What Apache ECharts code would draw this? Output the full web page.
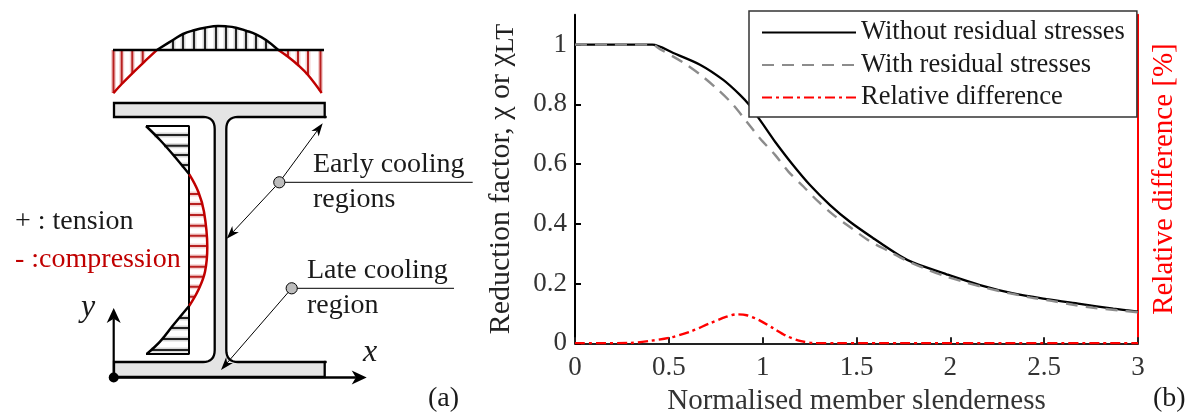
<!DOCTYPE html>
<html><head><meta charset="utf-8">
<style>html,body{margin:0;padding:0;background:#fff}#c{width:1189px;height:412px}</style>
<script src="https://cdn.jsdelivr.net/npm/echarts@6/dist/echarts.min.js"></script>
</head><body><div id="c"></div>
<script>
// ---- panel (b) data ----
const xTicks = [0, 0.5, 1, 1.5, 2, 2.5, 3];
const yTicks = [0, 0.2, 0.4, 0.6, 0.8, 1];
const withoutRS = [[0,1],[0.2,1],[0.412,1],[0.524,0.972],[0.666,0.933],[0.79,0.882],[0.879,0.832],[0.929,0.798],[0.971,0.761],[1.035,0.703],[1.066,0.675],[1.154,0.603],[1.252,0.53],[1.359,0.463],[1.465,0.407],[1.589,0.352],[1.731,0.293],[1.803,0.27],[1.98,0.231],[2.158,0.195],[2.335,0.167],[2.512,0.148],[2.69,0.132],[2.868,0.116],[3,0.106]];
const withRS = [[0,1],[0.2,1],[0.412,1],[0.453,0.985],[0.577,0.94],[0.675,0.896],[0.764,0.848],[0.844,0.798],[0.915,0.742],[0.986,0.686],[1.066,0.631],[1.137,0.575],[1.217,0.525],[1.297,0.474],[1.385,0.426],[1.474,0.385],[1.568,0.343],[1.67,0.309],[1.767,0.277],[1.874,0.248],[1.98,0.223],[2.087,0.203],[2.2,0.184],[2.318,0.167],[2.424,0.154],[2.54,0.142],[2.655,0.129],[2.762,0.119],[3,0.104]];
const relDiff = [[0,0],[0.293,0.001],[0.4,0.008],[0.506,0.019],[0.613,0.039],[0.719,0.067],[0.808,0.089],[0.861,0.097],[0.915,0.094],[0.986,0.076],[1.057,0.05],[1.126,0.025],[1.199,0.008],[1.27,0.001],[1.4,0],[3,0]];
const seriesNames = ['Without residual stresses', 'With residual stresses', 'Relative difference'];

// ---- panel (a) stress profiles, in the schematic's own units ----
const flangeRedLeft = [[113.3,93.3],[121.7,84],[132.3,73.3],[142.7,63.3],[157.3,49.7]];
const flangeBlack = [[157.3,49.7],[173,40],[183,34],[194,30.3],[205,27.7],[218,26],[226,26.3],[236,27.7],[246,30.7],[256,34.3],[266,40],[278,49.7]];
const flangeRedRight = [[278,49.7],[288,56.7],[298,65],[308,75],[321.7,93]];
const webBlackTop = [[146,126],[160,140],[173.3,155],[189.3,174.3]];
const webRed = [[189.3,174.3],[198.3,191.7],[204,211.7],[207.3,246.7],[205,271.7],[198.3,290],[189.3,305.7]];
const webBlackBottom = [[189.3,305.7],[173.3,325],[160,341.7],[146.7,354]];
const flangeBase = [[113,50],[324,50]];
const webBase = [[146,126],[189,126],[189,354],[146,354]];
const hatchFlangeBlack = [[173,40],[183,34],[194,30.3],[205,27.7],[216,26],[226,26.3],[236,27.7],[246,30.7],[256,34.3],[266,40]];
const hatchFlangeRed = [[113.5,93],[121.7,84],[132.3,73.3],[142.7,63.3],[288,56.7],[298,65],[308,75],[320.5,91]];
const hatchWebBlack = [[154,135],[164,145.7],[173,155],[181,165],[179.5,318],[171,328],[162,339],[151,350]];
const hatchWebRed = [[199,194],[202.5,204],[204.7,215],[206,225.7],[207,235.7],[207.3,246],[207,256.7],[205.7,266.7],[203.5,276.7],[199.5,286.7],[194,296.7]];

const SERIF = '"Liberation Serif","Times New Roman",serif';
const vHatch = a => a.flatMap(p => [[p[0],50],[p[0],p[1]],['-','-']]);
const hHatch = a => a.flatMap(p => [[189,p[1]],[p[0],p[1]],['-','-']]);

function schematicLine(data, color, width, z, smooth) {
  return {type:'line', xAxisIndex:1, yAxisIndex:2, data, symbol:'none', silent:true, connectNulls:false, z:z||5,
    smooth:smooth?0.4:false, lineStyle:{color, width, cap:'butt'}};
}
function arrow(x0,y0,x1,y1,len,hw,lw) {
  const a = Math.atan2(y1-y0,x1-x0), c = Math.cos(a), s = Math.sin(a);
  const bx = x1-c*len, by = y1-s*len, nx = x1-c*len*0.72, ny = y1-s*len*0.72;
  return [
    {type:'line', z:20, shape:{x1:x0,y1:y0,x2:nx,y2:ny}, style:{stroke:'#000',lineWidth:lw}},
    {type:'polygon', z:20, shape:{points:[[x1,y1],[bx-s*hw,by+c*hw],[nx,ny],[bx+s*hw,by-c*hw]]}, style:{fill:'#000'}}
  ];
}
// y is the text's baseline; the graphic text is anchored at its top
function label(text,x,y,font,fill) {
  return {type:'text', z:30, x, y:y-21, style:{text, font, fill:fill||'#1a1a1a', textAlign:'left'}};
}
// quarter-round fillet from a to b, with the corner at c
function fillet(a,c,b) {
  const pts = [];
  for (let i=0;i<=8;i++){ const t=i/8, u=1-t; pts.push([u*u*a[0]+2*u*t*c[0]+t*t*b[0], u*u*a[1]+2*u*t*c[1]+t*t*b[1]]); }
  return pts;
}
const F = '28px ' + SERIF, FI = 'italic 32px ' + SERIF;
const sectionOutline = [
  [114,103],[324.7,103],[324.7,117],
  ...fillet([238,117],[226.3,117],[226.3,129]),
  ...fillet([226.3,350],[226.3,362],[238,362]),
  [324.7,362],[324.7,377],[114,377],[114,362],
  ...fillet([203,362],[214.7,362],[214.7,350]),
  ...fillet([214.7,129],[214.7,117],[203,117]),
  [114,117]
];

const graphics = [
  {type:'polygon', z:1, shape:{points:sectionOutline}, style:{fill:'#e4e4e4',stroke:'#000',lineWidth:2.3}},
  {type:'line', z:2, shape:{x1:324,y1:117,x2:326.7,y2:117}, style:{stroke:'#000',lineWidth:2.3}},
  {type:'line', z:2, shape:{x1:324,y1:362,x2:326.7,y2:362}, style:{stroke:'#000',lineWidth:2.3}},
  ...arrow(113.7,377,113.7,308,15,7,2.2),
  ...arrow(113.7,377.5,366.7,377.5,15,7,2.5),
  {type:'circle', z:21, shape:{cx:113.7,cy:377.5,r:5}, style:{fill:'#000'}},
  ...arrow(279.3,182.3,322.7,123.3,13,4.5,1),
  ...arrow(279.3,182.3,226.7,238.7,13,4.5,1),
  ...arrow(291.7,288.3,221,370,13,4.5,1),
  {type:'line', z:20, shape:{x1:285,y1:182.3,x2:472.7,y2:182.3}, style:{stroke:'#000',lineWidth:1}},
  {type:'line', z:20, shape:{x1:297,y1:288.3,x2:454,y2:288.3}, style:{stroke:'#000',lineWidth:1}},
  {type:'circle', z:22, shape:{cx:279.3,cy:182.3,r:5.6}, style:{fill:'#bdbdbd',stroke:'#000',lineWidth:1}},
  {type:'circle', z:22, shape:{cx:291.7,cy:288.3,r:5.6}, style:{fill:'#bdbdbd',stroke:'#000',lineWidth:1}},
  label('Early cooling',313,172,F),
  label('regions',313,207,F),
  label('Late cooling',307,278,F),
  label('region',307,313,F),
  label('+ : tension',15,229,F),
  label('- :compression',15,267,F,'#c00000'),
  label('y',81,313,FI),
  label('x',363,358,FI),
  label('(a)',428,406,F),
  label('(b)',1153,406,F)
];

const option = {
  animation:false,
  backgroundColor:'#fff',
  textStyle:{fontFamily:SERIF},
  grid:[
    {left:575, top:14.8, width:563, height:328.5, containLabel:false, outerBoundsMode:'none'},
    {left:0, top:0, width:1189, height:412, containLabel:false, outerBoundsMode:'none'}
  ],
  legend:{
    data:seriesNames, left:749, top:11, orient:'vertical', padding:[8,12,6,12],
    itemWidth:94, itemHeight:24, itemGap:5.5, selectedMode:false,
    backgroundColor:'#fff', borderColor:'#333', borderWidth:1.5, z:10,
    itemStyle:{color:'transparent', opacity:0, borderWidth:0},
    textStyle:{fontFamily:SERIF, fontSize:26.5, color:'#1a1a1a', padding:0}
  },
  xAxis:[
    {type:'value', gridIndex:0, min:0, max:3, interval:0.5,
     name:'Normalised member slenderness', nameLocation:'middle', nameGap:44,
     nameTextStyle:{fontFamily:SERIF,fontSize:29,color:'#333'},
     axisLine:{lineStyle:{color:'#222',width:2}},
     axisTick:{inside:true,length:6,lineStyle:{color:'#222',width:2}},
     axisLabel:{fontFamily:SERIF,fontSize:27,color:'#333',margin:11,customValues:xTicks,hideOverlap:false,
       formatter:v=>String(v)},
     splitLine:{show:false}},
    {type:'value', gridIndex:1, min:0, max:1189, show:false}
  ],
  yAxis:[
    {type:'value', gridIndex:0, min:0, max:1.1, position:'left',
     name:'{m|Reduction factor, χ or χ}{s|LT}', nameLocation:'middle', nameGap:56, nameRotate:90,
     nameTextStyle:{rich:{m:{fontFamily:SERIF,fontSize:30,color:'#222'},s:{fontFamily:SERIF,fontSize:26,color:'#222',padding:[10,0,0,0]}}},
     axisLine:{show:true,lineStyle:{color:'#000',width:2}},
     axisTick:{inside:true,length:6,customValues:yTicks,lineStyle:{color:'#000',width:2}},
     axisLabel:{fontFamily:SERIF,fontSize:27,color:'#333',margin:8,customValues:yTicks,formatter:v=>String(v)},
     splitLine:{show:false}},
    {type:'value', gridIndex:0, min:0, max:1.1, position:'right',
     name:'Relative difference [%]', nameLocation:'middle', nameGap:12, nameRotate:90,
     nameTextStyle:{fontFamily:SERIF,fontSize:29,color:'#f00'},
     axisLine:{show:true,lineStyle:{color:'#f00',width:2}},
     axisTick:{show:false}, axisLabel:{show:false}, splitLine:{show:false}},
    {type:'value', gridIndex:1, min:0, max:412, inverse:true, show:false}
  ],
  graphic:graphics,
  series:[
    {name:seriesNames[0], type:'line', xAxisIndex:0, yAxisIndex:0, data:withoutRS, symbol:'none', z:3,
     smooth:0.3, lineStyle:{color:'#000',width:2.3}},
    {name:seriesNames[1], type:'line', xAxisIndex:0, yAxisIndex:0, data:withRS, symbol:'none', z:3,
     smooth:0.3, lineStyle:{color:'#8c8c8c',width:2.4,type:[12,8]}},
    {name:seriesNames[2], type:'line', xAxisIndex:0, yAxisIndex:1, data:relDiff, symbol:'none', z:4,
     smooth:0.3, lineStyle:{color:'#f00',width:2.4,type:[10,4,3,4]}},
    schematicLine(vHatch(hatchFlangeBlack),'rgba(0,0,0,0.16)',5,2),
    schematicLine(vHatch(hatchFlangeBlack),'#222',2,3),
    schematicLine(vHatch(hatchFlangeRed),'rgba(192,0,0,0.18)',5,2),
    schematicLine(vHatch(hatchFlangeRed),'#b82020',2,3),
    schematicLine(hHatch(hatchWebBlack),'rgba(0,0,0,0.16)',5,2),
    schematicLine(hHatch(hatchWebBlack),'#222',2,3),
    schematicLine(hHatch(hatchWebRed),'rgba(192,0,0,0.18)',5,2),
    schematicLine(hHatch(hatchWebRed),'#b82020',2,3),
    schematicLine(flangeRedLeft,'#c00000',2.5,5,true),
    schematicLine(flangeRedRight,'#c00000',2.5,5,true),
    schematicLine(flangeBlack,'#000',2.5,5,true),
    schematicLine(flangeBase,'#000',2.5),
    schematicLine(webBase,'#000',2),
    schematicLine(webBlackTop,'#000',2.5,5,true),
    schematicLine(webBlackBottom,'#000',2.5,5,true),
    schematicLine(webRed,'#c00000',2.5,5,true)
  ]
};
echarts.init(document.getElementById('c'),null,{renderer:'canvas'}).setOption(option);
</script></body></html>
